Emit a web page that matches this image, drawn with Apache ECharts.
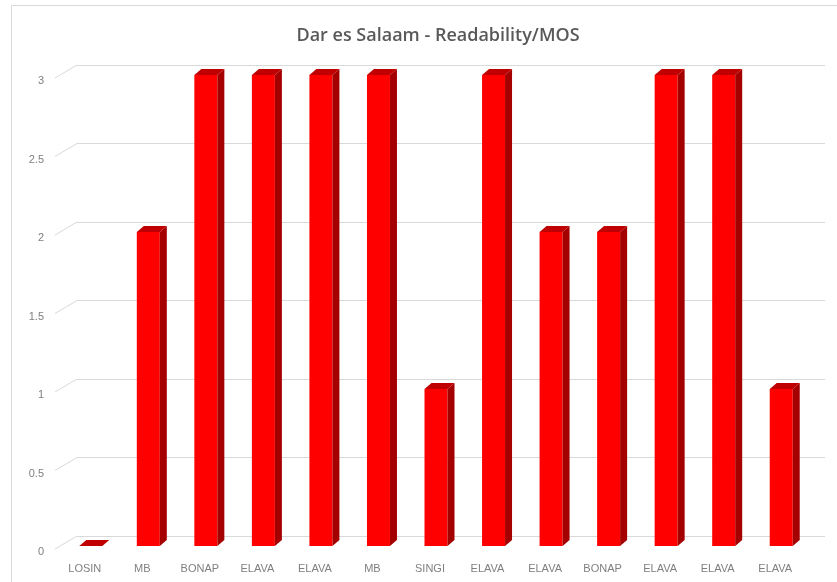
<!DOCTYPE html>
<html>
<head>
<meta charset="utf-8">
<script src="https://cdn.jsdelivr.net/npm/echarts@6/dist/echarts.min.js"></script>
<style>
  html, body { margin: 0; padding: 0; background: #fff; }
  #main { width: 837px; height: 582px; }
</style>
</head>
<body>
<div id="main"></div>
<script>
const categories = ['LOSIN', 'MB', 'BONAP', 'ELAVA', 'ELAVA', 'MB', 'SINGI', 'ELAVA', 'ELAVA', 'BONAP', 'ELAVA', 'ELAVA', 'ELAVA']
const scores = [0, 2, 3, 3, 3, 3, 1, 3, 2, 2, 3, 3, 1]
const yTicks = [0, 0.5, 1, 1.5, 2, 2.5, 3]

const chart = echarts.init(document.getElementById('main'))

// fake excel 3d column: front face, side and top
function renderBar(params, api) {
  const idx = api.value(0)
  const top = api.coord([idx, api.value(1)])
  const base = api.coord([idx, 0])
  const cx = top[0] + 6
  const yTop = top[1] - 6
  const yBase = base[1] - 6
  const hw = 11.5
  const dx = 7, dy = -6
  const x0 = cx - hw, x1 = cx + hw
  const kids = []
  if (yBase - yTop > 0.5) {
    kids.push({
      type: 'rect',
      shape: { x: x0, y: yTop, width: x1 - x0, height: yBase - yTop },
      style: { fill: '#ff0000' }
    })
    kids.push({
      type: 'polygon',
      shape: { points: [[x1, yTop], [x1 + dx, yTop + dy], [x1 + dx, yBase + dy], [x1, yBase]] },
      style: { fill: '#a50000' }
    })
  }
  kids.push({
    type: 'polygon',
    shape: { points: [[x0, yTop], [x1, yTop], [x1 + dx, yTop + dy], [x0 + dx, yTop + dy]] },
    style: { fill: '#c00000' }
  })
  return { type: 'group', children: kids }
}

// small diagonal lines from the axis labels to the back wall
function renderTick(params, api) {
  const p = api.coord([0, api.value(0)])
  return {
    type: 'line',
    shape: { x1: 55, y1: p[1] - 3, x2: 77, y2: p[1] - 16 },
    style: { stroke: '#d9d9d9', lineWidth: 1 }
  }
}

const option = {
  backgroundColor: '#fff',
  animation: false,
  title: {
    text: 'Dar es Salaam - Readability/MOS',
    left: 433,
    textAlign: 'center',
    top: 22,
    textStyle: { fontFamily: 'Open Sans', fontSize: 18, fontWeight: 600, color: '#595959' }
  },
  graphic: [{
    type: 'rect',
    shape: { x: 11.5, y: 5.5, width: 900, height: 700 },
    style: { fill: null, stroke: '#d9d9d9', lineWidth: 1 },
    silent: true
  }],
  grid: [
    { left: 56, right: 33, top: 81, bottom: 30 },
    { left: 77, right: 12, top: 65, bottom: 46 }
  ],
  xAxis: [
    {
      type: 'category', gridIndex: 0, data: categories,
      axisLine: { show: false }, axisTick: { show: false },
      axisLabel: { margin: 11, color: '#7f7f7f', fontSize: 11, fontFamily: 'Liberation Sans', interval: 0 }
    },
    { type: 'value', gridIndex: 1, show: false }
  ],
  yAxis: [
    {
      type: 'value', gridIndex: 0, min: 0, max: 3, interval: 0.5,
      axisLine: { show: false }, axisTick: { show: false },
      splitLine: { show: false },
      axisLabel: { margin: 12, color: '#7f7f7f', fontSize: 11, fontFamily: 'Liberation Sans' }
    },
    {
      type: 'value', gridIndex: 1, min: 0, max: 3, interval: 0.5,
      axisLine: { show: false }, axisTick: { show: false }, axisLabel: { show: false },
      splitLine: { lineStyle: { color: '#d9d9d9', width: 1 } }
    }
  ],
  series: [
    {
      type: 'custom',
      xAxisIndex: 0, yAxisIndex: 0,
      renderItem: renderTick,
      data: yTicks.map(v => [v]),
      encode: { y: 0 },
      silent: true
    },
    {
      type: 'custom',
      xAxisIndex: 0, yAxisIndex: 0,
      renderItem: renderBar,
      data: scores.map((v, i) => [i, v]),
      encode: { x: 0, y: 1 },
      z: 3
    }
  ]
}

chart.setOption(option)
</script>
</body>
</html>
